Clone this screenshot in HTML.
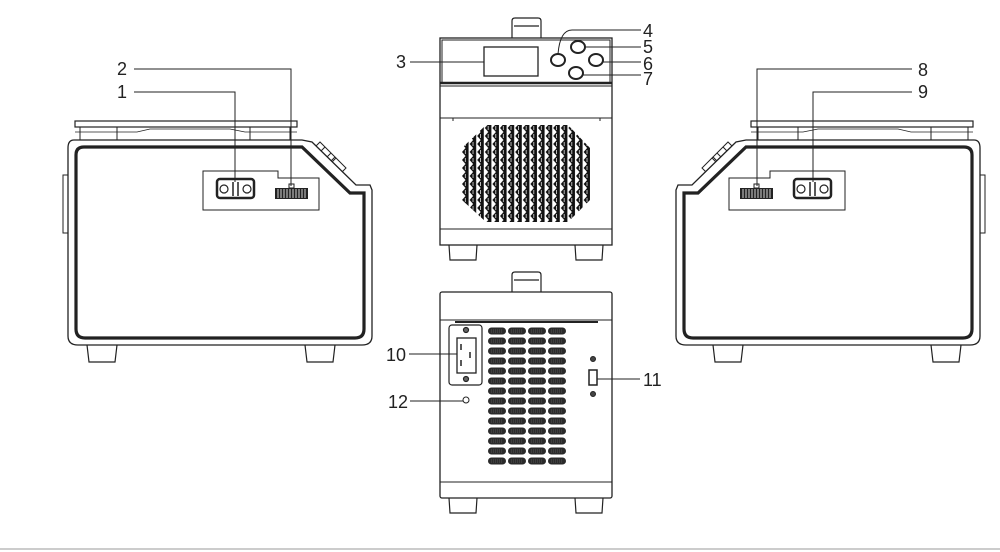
<!DOCTYPE html>
<html><head><style>
html,body{margin:0;padding:0;background:#fff;}
svg{display:block;}
text{font-family:"Liberation Sans",sans-serif;font-size:18px;fill:#222;}
</style></head><body>
<svg width="1000" height="552" viewBox="0 0 1000 552" xmlns="http://www.w3.org/2000/svg">
<defs>
<g id="side" fill="none" stroke="#222">
  <rect x="75" y="121" width="222" height="6" stroke-width="1.2"/>
  <path d="M80 127 L80 140 M290 127 L290 140 M117 127 L117 140 M250 127 L250 140" stroke-width="1"/>
  <path d="M75 132 L137 132 L150 129 L230 129 L245 132 L297 132" stroke-width="0.8"/>
  <path d="M74 140 L302 140 L312 142 L356 185 L370 185 L372 190 L372 336 Q372 345 362 345 L78 345 Q68 345 68 336 L68 148 Q68 140 74 140 Z" stroke-width="1.3"/>
  <path d="M84 147 L302 147 L350 193 L364 193 L364 329 Q364 338 355 338 L85 338 Q76 338 76 329 L76 155 Q76 147 84 147 Z" stroke-width="3.2"/>
  <path d="M316 146 L320 142 L331 153 L327 157 M331 161 L335 157 L346 168 L342 172 M321 151 L325 147 L336 158 L332 162" stroke-width="1"/>
  <rect x="63" y="175" width="5" height="58" stroke-width="1"/>
  <path d="M87 345 L89 362 L115 362 L117 345 M305 345 L307 362 L333 362 L335 345" stroke-width="1.2"/>
  <path d="M203 171 L278 171 L278 178 L319 178 L319 210 L203 210 Z" stroke-width="1"/>
  <rect x="217" y="179" width="37" height="19" rx="3" stroke-width="2.5"/>
  <circle cx="224" cy="189" r="4" stroke-width="1.2"/>
  <circle cx="247" cy="189" r="4" stroke-width="1.2"/>
  <path d="M233 182 L233 196 M238 182 L238 196" stroke-width="1.5"/>
  <rect x="275" y="188" width="33" height="11" fill="#222" stroke="none"/>
  <path d="M278 189 V198 M281 189 V198 M284 189 V198 M287 189 V198 M290 189 V198 M293 189 V198 M296 189 V198 M299 189 V198 M302 189 V198 M305 189 V198" stroke="#fff" stroke-width="0.8"/>
  <rect x="289" y="184" width="5" height="4" stroke-width="1"/>
</g>
<pattern id="grille" x="462" y="124" width="7.6" height="8" patternUnits="userSpaceOnUse">
  <path d="M0 4 L3.5 0 L6.6 0 L6.6 8 L3.5 8 Z" fill="#111"/>
  <path d="M3.4 2 V6" stroke="#fff" stroke-width="0.7"/>
</pattern>
<pattern id="vent" x="487" y="326" width="20" height="10" patternUnits="userSpaceOnUse">
  <rect x="1" y="1.5" width="18" height="7" rx="3.5" fill="#2a2a2a"/>
  <path d="M4 4 h12 M4 6 h12" stroke="#777" stroke-width="0.5" stroke-dasharray="1 1"/>
</pattern>
</defs>

<use href="#side"/>
<text x="117" y="98">1</text>
<text x="117" y="75">2</text>
<path d="M134 92 H235 V182 M134 69 H291 V186" fill="none" stroke="#222" stroke-width="1"/>

<g transform="translate(1048,0) scale(-1,1)"><use href="#side"/></g>
<text x="918" y="76">8</text>
<text x="918" y="98">9</text>
<path d="M912 69 H757 V186 M912 92 H813 V182" fill="none" stroke="#222" stroke-width="1"/>

<g fill="none" stroke="#222">
  <path d="M512 38 V21 Q512 18 515 18 H538 Q541 18 541 21 V38 M514 26 H539" stroke-width="1.2"/>
  <rect x="440" y="38" width="172" height="207" stroke-width="1.3"/>
  <rect x="442" y="40" width="168" height="43" stroke-width="1"/>
  <path d="M440 86 H612 M440 118 H612 M453 118 V121 M600 118 V121 M440 229 H612" stroke-width="1"/>
  <path d="M440 83 H612" stroke-width="2.5"/>
  <rect x="484" y="47" width="54" height="29" stroke-width="1.3"/>
  <ellipse cx="558" cy="60" rx="7" ry="6" stroke-width="2"/>
  <ellipse cx="578" cy="47" rx="7" ry="6" stroke-width="2"/>
  <ellipse cx="596" cy="60" rx="7" ry="6" stroke-width="2"/>
  <ellipse cx="576" cy="73" rx="7" ry="6" stroke-width="2"/>
  <path d="M449 245 L450 260 L476 260 L477 245 M575 245 L576 260 L602 260 L603 245" stroke-width="1.2"/>
  <path d="M410 62 H484 M558 54 Q560 30 572 30 H641 M585 47 H641 M603 62 H641 M583 75 H641" stroke-width="1"/>
</g>
<polygon points="486,125 568,125 590,148 590,200 568,222 486,222 462,200 462,148" fill="url(#grille)"/>
<text x="396" y="68">3</text>
<text x="643" y="37">4</text>
<text x="643" y="53">5</text>
<text x="643" y="70">6</text>
<text x="643" y="85">7</text>

<g fill="none" stroke="#222">
  <path d="M512 292 V275 Q512 272 515 272 H538 Q541 272 541 275 V292 M514 280 H539" stroke-width="1.2"/>
  <rect x="440" y="292" width="172" height="206" rx="2" stroke-width="1.3"/>
  <path d="M440 320 H612 M440 482 H612" stroke-width="1"/>
  <path d="M455 322 H598" stroke-width="2"/>
  <rect x="449" y="325" width="33" height="60" rx="3" stroke-width="1.2"/>
  <rect x="457" y="338" width="19" height="35" stroke-width="1.3"/>
  <path d="M461 344 V350 M461 360 V366 M470 352 V358" stroke-width="1.5"/>
  <circle cx="466" cy="330" r="2.5" fill="#666" stroke-width="1.2"/>
  <circle cx="466" cy="379" r="2.5" fill="#666" stroke-width="1.2"/>
  <circle cx="466" cy="400" r="3" stroke-width="1"/>
  <rect x="589" y="370" width="8" height="15" stroke-width="1.5"/>
  <circle cx="593" cy="359" r="2.5" fill="#444" stroke-width="1"/>
  <circle cx="593" cy="394" r="2.5" fill="#444" stroke-width="1"/>
  <path d="M449 498 L450 513 L476 513 L477 498 M575 498 L576 513 L602 513 L603 498" stroke-width="1.2"/>
  <path d="M409 354 H457 M410 401 H463 M597 379 H640" stroke-width="1"/>
</g>
<rect x="487" y="326" width="80" height="140" fill="url(#vent)"/>
<text x="386" y="361">10</text>
<text x="388" y="408">12</text>
<text x="643" y="386">11</text>

<rect x="0" y="548" width="1000" height="2" fill="#ccc"/>
</svg>
</body></html>
